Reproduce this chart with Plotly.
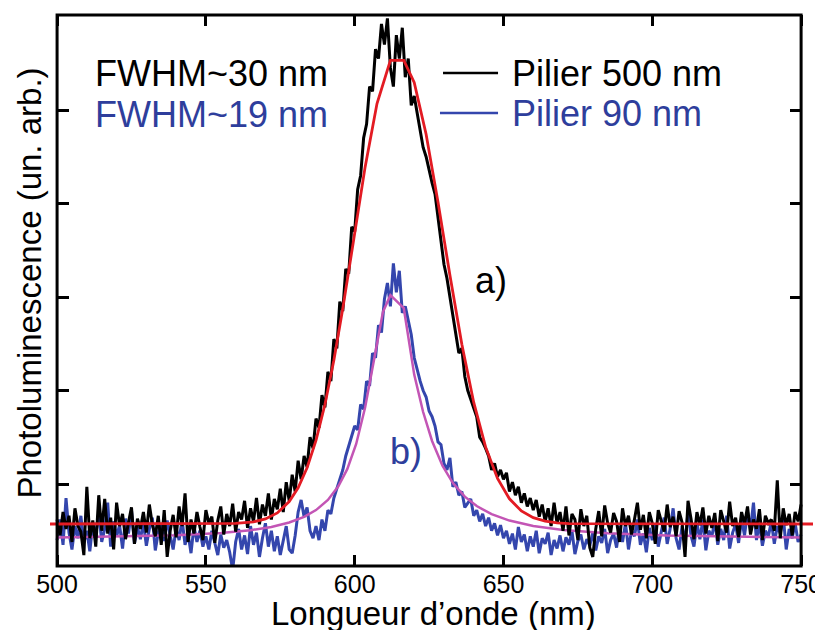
import plotly.graph_objects as go

# sample grid of the spectrometer (nm)
WAVELENGTH = list(range(500, 751))

# raw PL spectra (arb. units, one value per nm)
PL_500 = [
    0.62, 0.45, 0.70, 0.52, 0.66, 0.38, 0.74, 0.55, 0.49, 0.24,
    0.97, 0.42, 0.61, 0.33, 0.88, 0.50, 0.84, 0.47, 0.64, 0.30,
    0.80, 0.55, 0.68, 0.41, 0.59, 0.75, 0.36, 0.63, 0.52, 0.70,
    0.48, 0.78, 0.57, 0.44, 0.66, 0.35, 0.72, 0.22, 0.50, 0.67,
    0.43, 0.76, 0.55, 0.90, 0.38, 0.62, 0.47, 0.70, 0.54, 0.40,
    0.72, 0.58, 0.65, 0.37, 0.61, 0.76, 0.46, 0.68, 0.55, 0.79,
    0.49, 0.70, 0.62, 0.82, 0.53, 0.74, 0.60, 0.85, 0.57, 0.78,
    0.66, 0.90, 0.62, 0.84, 0.73, 0.95, 0.70, 1.02, 0.82, 1.10,
    0.92, 1.25, 1.05, 1.30, 1.18, 1.50, 1.38, 1.70, 1.60, 1.95,
    1.82, 2.20, 2.10, 2.55, 2.45, 2.95, 2.85, 3.30, 3.25, 3.75,
    3.70, 4.15, 4.30, 4.70, 4.85, 5.25, 5.20, 5.65, 5.55, 5.92,
    5.70, 5.98, 5.45, 5.25, 5.80, 5.55, 5.88, 5.35, 5.55, 5.05,
    5.15, 4.95, 4.75, 4.60, 4.50, 4.35, 4.22, 4.10, 3.85, 3.65,
    3.35, 3.20, 3.00, 2.85, 2.60, 2.40, 2.45, 2.15, 2.00, 1.90,
    1.80, 1.72, 1.50, 1.45, 1.38, 1.30, 1.15, 1.22, 1.08, 1.15,
    1.05, 1.12, 0.92, 1.02, 0.88, 0.97, 0.80, 0.90, 0.76, 0.85,
    0.72, 0.83, 0.65, 0.78, 0.60, 0.74, 0.55, 0.80, 0.58, 0.70,
    0.50, 0.76, 0.45, 0.68, 0.62, 0.40, 0.73, 0.55, 0.66, 0.32,
    0.22, 0.52, 0.71, 0.44, 0.77, 0.58, 0.48, 0.69, 0.60, 0.38,
    0.74, 0.55, 0.66, 0.46, 0.62, 0.80, 0.51, 0.67, 0.42, 0.70,
    0.58, 0.36, 0.72, 0.60, 0.49, 0.78, 0.54, 0.65, 0.44, 0.71,
    0.59, 0.22, 0.82, 0.63, 0.41, 0.70, 0.56, 0.75, 0.47, 0.66,
    0.53, 0.69, 0.39, 0.72, 0.60, 0.48, 0.81, 0.55, 0.64, 0.43,
    0.70, 0.57, 0.76, 0.46, 0.62, 0.52, 0.73, 0.40, 0.66, 0.58,
    0.62, 0.50, 1.04, 0.42, 0.74, 0.56, 0.68, 0.45, 0.70, 0.60,
    0.78,
]
PL_90 = [
    0.40, 0.62, 0.35, 0.85, 0.48, 0.30, 0.55, 0.42, 0.66, 0.37,
    0.50, 0.28, 0.58, 0.45, 0.70, 0.38, 0.52, 0.80, 0.33, 0.60,
    0.44, 0.56, 0.31, 0.63, 0.47, 0.72, 0.36, 0.54, 0.41, 0.59,
    0.34, 0.52, 0.64, 0.29, 0.48, 0.57, 0.39, 0.61, 0.45, 0.30,
    0.53, 0.40, 0.62, 0.35, 0.47, 0.26, 0.55, 0.38, 0.50, 0.33,
    0.44, 0.30, 0.50, 0.36, 0.24, 0.46, 0.32, 0.40, 0.27, 0.08,
    0.38, 0.52, 0.30, 0.45, 0.25, 0.55, 0.35, 0.48, 0.22, 0.42,
    0.58, 0.33, 0.50, 0.28, 0.44, 0.24, 0.40, 0.55, 0.30, 0.26,
    0.45, 0.70, 0.83, 0.65, 0.75, 0.50, 0.42, 0.55, 0.40, 0.62,
    0.50, 0.72, 0.68, 0.85, 0.95, 1.05, 1.15, 1.30, 1.40, 1.50,
    1.62, 1.58, 1.85, 1.80, 2.10, 2.05, 2.40, 2.35, 2.70, 2.62,
    2.98, 3.15, 2.90, 3.36, 3.05, 3.28, 2.83, 2.90, 2.75, 2.60,
    2.35, 2.22, 2.10, 2.00, 1.93, 1.78, 1.72, 1.62, 1.45, 1.42,
    1.22, 1.15, 1.28, 0.97, 1.02, 0.88, 0.92, 0.75, 0.80, 0.84,
    0.66, 0.72, 0.60, 0.68, 0.55, 0.64, 0.50, 0.58, 0.45, 0.56,
    0.42, 0.50, 0.36, 0.47, 0.30, 0.54, 0.38, 0.46, 0.28, 0.44,
    0.33, 0.50, 0.26, 0.42, 0.36, 0.48, 0.24, 0.40, 0.31, 0.45,
    0.28, 0.43, 0.35, 0.50, 0.25, 0.39, 0.46, 0.30, 0.41, 0.34,
    0.48, 0.29, 0.44, 0.37, 0.52, 0.26, 0.40, 0.47, 0.32, 0.55,
    0.38, 0.58, 0.30, 0.50, 0.44, 0.62, 0.35, 0.47, 0.27, 0.53,
    0.40, 0.56, 0.33, 0.48, 0.64, 0.36, 0.52, 0.74, 0.42, 0.30,
    0.55, 0.38, 0.70, 0.45, 0.33, 0.58, 0.41, 0.62, 0.29, 0.50,
    0.44, 0.60, 0.35, 0.52, 0.40, 0.66, 0.31, 0.48, 0.57, 0.37,
    0.62, 0.45, 0.70, 0.52, 0.80, 0.40, 0.58, 0.34, 0.50, 0.44,
    0.60, 0.36, 0.55, 0.47, 0.66, 0.30, 0.52, 0.42, 0.58, 0.38,
    0.46,
]

# fitted curves
FIT_500_X = [497.6, 560, 566, 570, 574, 578, 581, 584, 587, 590,
             593, 596, 599.5, 603.5, 607.5, 612, 616.5, 620, 624, 628,
             632, 636, 640, 644, 648, 652, 656, 660, 664, 668,
             672, 754]
FIT_500_Y = [0.572, 0.578, 0.595, 0.627, 0.691, 0.812, 0.960, 1.174, 1.466, 1.850,
             2.323, 2.876, 3.580, 4.389, 5.069, 5.530, 5.530, 5.295, 4.741, 4.014,
             3.233, 2.494, 1.872, 1.394, 1.059, 0.842, 0.712, 0.640, 0.603, 0.585,
             0.576, 0.572]
FIT_90_X = [500, 520, 540, 555, 565, 572, 578, 583, 587, 591,
            594.5, 597.5, 600.5, 603.5, 606.5, 609.5, 612, 616.5, 620, 623,
            626, 629.5, 633, 637, 641, 646, 652, 660, 670, 685,
            705, 730, 750]
FIT_90_Y = [0.428, 0.436, 0.452, 0.476, 0.506, 0.541, 0.588, 0.649, 0.721, 0.830,
            0.975, 1.159, 1.428, 1.818, 2.333, 2.840, 3.020, 2.880, 2.170, 1.770,
            1.460, 1.196, 1.010, 0.865, 0.764, 0.677, 0.609, 0.551, 0.508, 0.473,
            0.449, 0.435, 0.428]

X_TICKS = [500, 550, 600, 650, 700, 750]
Y_TICKS = [1, 2, 3, 4, 5]
X_RANGE = [497.62, 754.0]
Y_RANGE = [0.123, 6.016]

FONT = "Liberation Sans, Arial, sans-serif"
BLACK = "#000000"
BLUE = "#3446ad"
BLUE_TEXT = "#2e3e9c"
MAGENTA = "#c355b5"
RED = "#e31b23"

span = X_RANGE[1] - X_RANGE[0]
left_pos = (X_TICKS[0] - X_RANGE[0]) / span
right_pos = (X_TICKS[-1] - X_RANGE[0]) / span

fig = go.Figure()
fig.add_trace(go.Scatter(x=WAVELENGTH, y=PL_90, mode="lines", name="Pilier 90 nm",
                         line=dict(color=BLUE, width=3)))
fig.add_trace(go.Scatter(x=FIT_90_X, y=FIT_90_Y, mode="lines", name="fit 90 nm",
                         line=dict(color=MAGENTA, width=2.5)))
fig.add_trace(go.Scatter(x=WAVELENGTH, y=PL_500, mode="lines", name="Pilier 500 nm",
                         line=dict(color=BLACK, width=3)))
fig.add_trace(go.Scatter(x=FIT_500_X, y=FIT_500_Y, mode="lines", name="fit 500 nm",
                         yaxis="y2", line=dict(color=RED, width=2.8)))

# frame drawn between 500 and 750 nm (the red fit pokes out of it)
fig.add_shape(type="rect", xref="x", yref="paper", x0=X_TICKS[0], x1=X_TICKS[-1],
              y0=0, y1=1, line=dict(color=BLACK, width=3), layer="above")

# legend samples
fig.add_shape(type="line", xref="paper", yref="paper", x0=0.5151, x1=0.5872,
              y0=0.8947, y1=0.8947, line=dict(color=BLACK, width=2.5))
fig.add_shape(type="line", xref="paper", yref="paper", x0=0.5111, x1=0.5872,
              y0=0.8221, y1=0.8221, line=dict(color=BLUE, width=2.5))

labels = [
    ("FWHM~30 nm", 0.0564, 0.8947, BLACK),
    ("FWHM~19 nm", 0.0564, 0.8203, BLUE_TEXT),
    ("Pilier 500 nm", 0.6029, 0.8947, BLACK),
    ("Pilier 90 nm", 0.6029, 0.8221, BLUE_TEXT),
    ("a)", 0.5544, 0.519, BLACK),
    ("b)", 0.443, 0.2069, BLUE_TEXT),
]
for text, x, y, color in labels:
    fig.add_annotation(text=text, xref="paper", yref="paper", x=x, y=y,
                       xanchor="left", yanchor="middle", showarrow=False,
                       font=dict(family=FONT, size=36, color=color))

# axis titles
fig.add_annotation(text="Photoluminescence (un. arb.)", xref="paper", yref="paper",
                   x=-0.0275, y=0.5127, xanchor="center", yanchor="middle",
                   textangle=-90, showarrow=False,
                   font=dict(family=FONT, size=33, color=BLACK))
fig.add_annotation(text="Longueur d’onde (nm)", xref="paper", yref="paper",
                   x=0.5026, y=-0.0871, xanchor="center", yanchor="middle",
                   showarrow=False, font=dict(family=FONT, size=33, color=BLACK))

axis_common = dict(
    showgrid=False,
    zeroline=False,
    showline=False,
    automargin=False,
    ticks="inside",
    ticklen=11,
    tickwidth=2.5,
    tickcolor=BLACK,
    tickmode="array",
)

# the page body keeps its default 8 px margin, so the figure is sized and
# padded to land the plot area where the original has it
fig.update_layout(
    width=815,
    height=622,
    margin=dict(l=42, r=10, t=7, b=64, autoexpand=False),
    paper_bgcolor="white",
    plot_bgcolor="white",
    showlegend=False,
    font=dict(family=FONT, color=BLACK),
    xaxis=dict(
        axis_common,
        range=X_RANGE,
        mirror="ticks",
        tickvals=X_TICKS,
        tickfont=dict(size=25, color=BLACK),
        ticklabelstandoff=1,
    ),
    yaxis=dict(
        axis_common,
        range=Y_RANGE,
        anchor="free",
        position=left_pos,
        tickvals=Y_TICKS,
        showticklabels=False,
    ),
    yaxis2=dict(
        axis_common,
        range=Y_RANGE,
        overlaying="y",
        anchor="free",
        position=right_pos,
        side="right",
        tickvals=Y_TICKS,
        showticklabels=False,
    ),
)

fig.write_html("out.html")
